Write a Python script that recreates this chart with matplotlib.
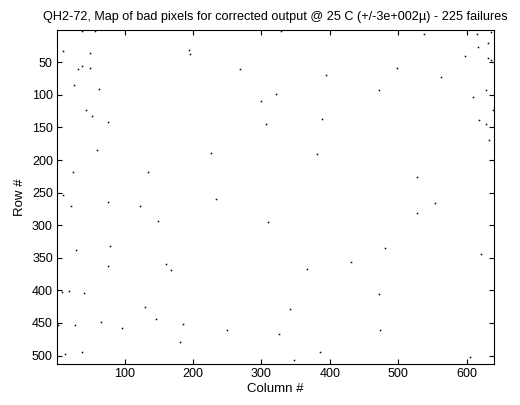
import matplotlib
matplotlib.use("Agg")

import matplotlib.pyplot as plt

plt.rcParams["font.family"] = ["Liberation Sans", "DejaVu Sans"]

title = "QH2-72, Map of bad pixels for corrected output @ 25 C (+/-3e+002\u00b5) - 225 failures"

# bad pixel locations (column, row)
cols = [37, 56, 10, 49, 194, 195, 38, 32, 49, 268, 26, 62, 321, 299, 44, 52, 75, 306,
        59, 226, 25, 134, 10, 75, 233, 22, 123, 148, 310, 78, 29, 76, 160, 168, 9, 19,
        40, 130, 146, 65, 3, 28, 96, 185, 249, 181, 37, 13,
        328, 538, 615, 635, 631, 617, 598, 631, 635, 498, 394, 563, 472, 629, 609, 638,
        388, 618, 629, 632, 381, 528, 554, 528, 481, 621, 431, 366, 472, 342, 325, 473,
        385, 347, 605]
rows = [2, 2, 32, 36, 31, 37, 56, 61, 59, 61, 85, 91, 98, 110, 123, 133, 142, 145,
        184, 190, 218, 219, 253, 265, 260, 271, 271, 293, 295, 332, 338, 362, 360, 368, 403, 401,
        404, 425, 444, 449, 453, 453, 457, 452, 461, 479, 494, 497,
        2, 6, 6, 3, 21, 26, 41, 44, 46, 59, 70, 73, 92, 92, 104, 124,
        137, 138, 145, 170, 191, 226, 266, 281, 335, 344, 356, 367, 406, 428, 467, 461,
        494, 507, 502]

fig = plt.figure(figsize=(5.2, 4.05), dpi=100)
ax = fig.add_axes([0.1096, 0.1012, 0.8404, 0.8248])

ax.plot(cols, rows, "s", color="k", markersize=1.1, markeredgewidth=0)

ax.set_xlim(1, 640)
ax.set_ylim(513, 0.5)
ax.set_xticks([100, 200, 300, 400, 500, 600])
ax.set_yticks([50, 100, 150, 200, 250, 300, 350, 400, 450, 500])
ax.tick_params(direction="in", length=3.5, width=0.8, labelsize=9,
               top=True, right=True, pad=3)
for s in ax.spines.values():
    s.set_linewidth(0.8)

ax.set_xlabel("Column #", fontsize=9.5, labelpad=2)
ax.set_ylabel("Row #", fontsize=9.5, labelpad=4)
ax.set_title(title, fontsize=9.1, pad=7)

fig.savefig("out.png", dpi=100)
